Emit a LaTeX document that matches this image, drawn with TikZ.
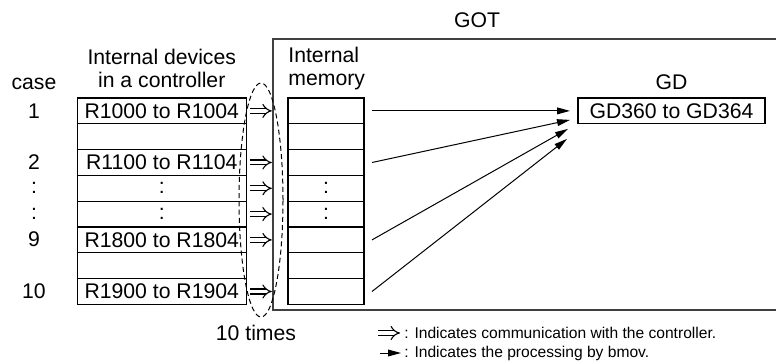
\documentclass[tikz,border=0pt]{standalone}
\usepackage{fontspec}
\setmainfont{Liberation Sans}
\usetikzlibrary{arrows.meta, positioning, shapes.geometric}

\begin{document}
\begin{tikzpicture}[
        x=0.5pt, y=-0.5pt,
        every node/.style={font=\fontsize{10.6}{11.5}\selectfont, inner sep=0pt},
        dev/.style={rectangle, draw=black, line width=0.6pt, outer sep=0pt, minimum width=84.5pt, minimum height=12.9pt},
        mem/.style={dev, minimum width=38pt},
        gotline/.style={draw=black!75, line width=0.9pt},
        comm/.style={double, double distance=1.9pt, line width=0.55pt, -{Implies[length=3.2pt]}},
        bmov/.style={line width=0.5pt, -{Triangle[length=6.5pt,width=3.4pt]}},
        note/.style={font=\fontsize{7.8}{9}\selectfont, anchor=west}
        ]
        \useasboundingbox (0,0) rectangle (776,363);

        % GOT frame, open on the right
        \node[minimum width=251.5pt, minimum height=135.5pt, outer sep=0pt] (got) at (524.5,174.5) {};
        \draw[gotline] (got.north east) -- (got.north west) -- (got.south west) -- (got.south east);
        \node (gotlabel) at (477,20) {GOT};

        % internal devices in the controller
        \node[align=center] (devhead) at (161.75,68) {Internal devices\\in a controller};
        \node[dev] (l1) at (161.75,110.9) {R1000 to R1004};
        \node[dev, below=0pt of l1] (l2) {};
        \node[dev, below=0pt of l2] (l3) {R1100 to R1104};
        \node[dev, below=0pt of l3] (l4) {:};
        \node[dev, below=0pt of l4] (l5) {:};
        \node[dev, below=0pt of l5] (l6) {R1800 to R1804};
        \node[dev, below=0pt of l6] (l7) {};
        \node[dev, below=0pt of l7] (l8) {R1900 to R1904};

        % case numbers
        \node (casehead) at (34,84) {case};
        \node (c1) at (34,110.9) {1};
        \node (c2) at (34,162.4) {2};
        \node (c3) at (34,188.1) {:};
        \node (c4) at (34,213.9) {:};
        \node (c9) at (34,239.6) {9};
        \node (c10) at (34,291.1) {10};

        % internal memory of the GOT
        \node[align=left, anchor=west] (memhead) at (288,69) {Internal\\memory};
        \node[mem] (m1) at (326,110.9) {};
        \node[mem, below=0pt of m1] (m2) {};
        \node[mem, below=0pt of m2] (m3) {};
        \node[mem, below=0pt of m3] (m4) {:};
        \node[mem, below=0pt of m4] (m5) {:};
        \node[mem, below=0pt of m5] (m6) {};
        \node[mem, below=0pt of m6] (m7) {};
        \node[mem, below=0pt of m7] (m8) {};

        % GD devices
        \node[dev, minimum width=93.5pt] (gd) at (671.5,110.9) {GD360 to GD364};
        \node[above=4pt of gd] (gdlabel) {GD};

        % communication with the controller
        \draw[comm] ([xshift=1.8pt]l1.east) -- ([xshift=-0.6pt]l1.east -| got.west);
        \draw[comm] ([xshift=1.8pt]l3.east) -- ([xshift=-0.6pt]l3.east -| got.west);
        \draw[comm] ([xshift=1.8pt]l4.east) -- ([xshift=-0.6pt]l4.east -| got.west);
        \draw[comm] ([xshift=1.8pt]l5.east) -- ([xshift=-0.6pt]l5.east -| got.west);
        \draw[comm] ([xshift=1.8pt]l6.east) -- ([xshift=-0.6pt]l6.east -| got.west);
        \draw[comm] ([xshift=1.8pt]l8.east) -- ([xshift=-0.6pt]l8.east -| got.west);

        \node[ellipse, draw, dashed, dash pattern=on 2.5pt off 1.6pt, line width=0.5pt,
              minimum width=22pt, minimum height=117pt] (loop) at (261,200) {};
        \node (times) at (256,333) {10 times};

        % bmov
        \draw[bmov] ([xshift=4pt]m1.east) -- ([xshift=-4pt]gd.west);
        \draw[bmov] ([xshift=4pt]m3.east) -- ([xshift=-4pt,yshift=-4.5pt]gd.west);
        \draw[bmov] ([xshift=4pt]m6.east) -- ([xshift=-5pt,yshift=-9pt]gd.west);
        \draw[bmov] ([xshift=4pt]m8.east) -- ([xshift=-5.5pt,yshift=-14pt]gd.west);

        % legend
        \coordinate (k1a) at (378,333);
        \coordinate (k1b) at (400,333);
        \draw[comm] (k1a) -- (k1b);
        \node[note] (k1) at (404,333) {: Indicates communication with the controller.};
        \coordinate (k2a) at (380,353);
        \coordinate (k2b) at (401,353);
        \draw[bmov] (k2a) -- (k2b);
        \node[note] (k2) at (404,353) {: Indicates the processing by bmov.};
    \end{tikzpicture}
\end{document}
